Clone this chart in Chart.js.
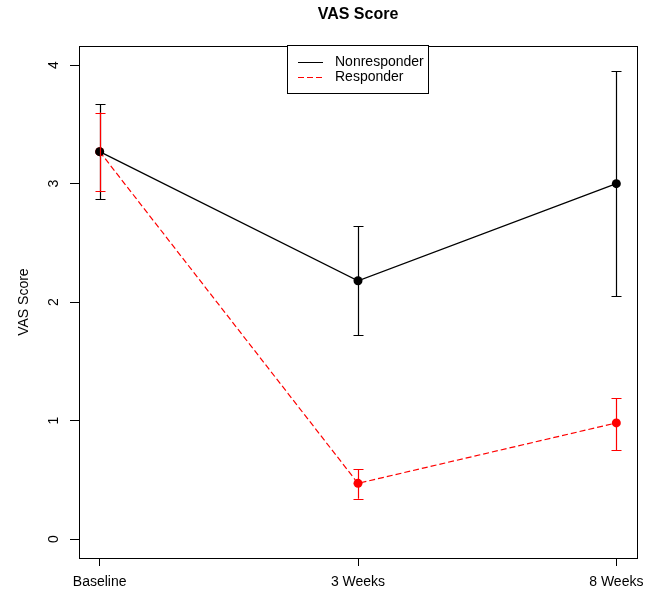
<!DOCTYPE html>
<html>
<head>
<meta charset="utf-8">
<script src="https://cdn.jsdelivr.net/npm/chart.js@4.4.1/dist/chart.umd.min.js"></script>
<style>
  html, body { margin: 0; padding: 0; background: #fff; }
  #wrap { width: 650px; height: 591px; }
</style>
</head>
<body>
<div id="wrap"><canvas id="c" width="650" height="591"></canvas></div>
<script>
const categories = ['Baseline', '3 Weeks', '8 Weeks'];
const xPositions = [1, 2, 3];
const yTickValues = [0, 1, 2, 3, 4];

const nonresponderMean  = [3.27, 2.18, 3.00];
const nonresponderUpper = [3.67, 2.64, 3.95];
const nonresponderLower = [2.87, 1.72, 2.05];

const responderMean  = [3.27, 0.47, 0.98];
const responderUpper = [3.60, 0.59, 1.19];
const responderLower = [2.94, 0.34, 0.75];

const FONT = '"Liberation Sans", Arial, sans-serif';

const series = [
  { label: 'Nonresponder', mean: nonresponderMean, upper: nonresponderUpper, lower: nonresponderLower, color: '#000000', dash: [] },
  { label: 'Responder', mean: responderMean, upper: responderUpper, lower: responderLower, color: '#FF0000', dash: [6, 3] }
];

const boxAndBars = {
  id: 'boxAndBars',
  beforeDatasetsDraw(chart) {
    const { ctx, chartArea: a } = chart;
    ctx.save();
    ctx.strokeStyle = '#000';
    ctx.lineWidth = 1;
    ctx.strokeRect(Math.round(a.left) + 0.5, Math.round(a.top) + 0.5,
                   Math.round(a.right - a.left), Math.round(a.bottom - a.top));
    ctx.restore();
  },
  afterDatasetsDraw(chart) {
    const { ctx, scales: { x, y } } = chart;
    ctx.save();
    ctx.lineWidth = 1.2;
    series.forEach(s => {
      ctx.strokeStyle = s.color;
      s.mean.forEach((m, i) => {
        const px = Math.round(x.getPixelForValue(xPositions[i])) + 0.5;
        const pTop = y.getPixelForValue(s.upper[i]);
        const pBot = y.getPixelForValue(s.lower[i]);
        ctx.beginPath();
        ctx.moveTo(px, pTop); ctx.lineTo(px, pBot);
        ctx.moveTo(px - 5, Math.round(pTop) + 0.5); ctx.lineTo(px + 5, Math.round(pTop) + 0.5);
        ctx.moveTo(px - 5, Math.round(pBot) + 0.5); ctx.lineTo(px + 5, Math.round(pBot) + 0.5);
        ctx.stroke();
      });
    });
    ctx.restore();
  },
  afterDraw(chart) {
    const { ctx } = chart;
    ctx.save();
    // legend box
    const lx = 287.5, ly = 45.5, lw = 141, lh = 48;
    ctx.fillStyle = '#fff';
    ctx.fillRect(lx, ly, lw, lh);
    ctx.strokeStyle = '#000';
    ctx.lineWidth = 1;
    ctx.strokeRect(lx, ly, lw, lh);
    ctx.font = '14px ' + FONT;
    ctx.textBaseline = 'middle';
    ctx.textAlign = 'left';
    series.forEach((s, i) => {
      const yy = Math.round(62 + i * 15) + 0.5;
      ctx.strokeStyle = s.color;
      ctx.setLineDash(s.dash);
      ctx.beginPath();
      ctx.moveTo(298, yy); ctx.lineTo(323, yy);
      ctx.stroke();
      ctx.setLineDash([]);
      ctx.fillStyle = '#000';
      ctx.fillText(s.label, 335, yy);
    });
    ctx.restore();
  }
};

const datasets = series.map(s => ({
  label: s.label,
  data: xPositions.map((xv, i) => ({ x: xv, y: s.mean[i] })),
  borderColor: s.color,
  backgroundColor: s.color,
  borderWidth: 1.2,
  borderDash: s.dash,
  pointRadius: 4.5,
  pointHoverRadius: 4.5,
  pointBorderWidth: 0,
  pointBackgroundColor: s.color,
  tension: 0,
  fill: false
}));

new Chart(document.getElementById('c'), {
  type: 'line',
  data: { datasets },
  plugins: [boxAndBars],
  options: {
    responsive: false,
    animation: false,
    events: [],
    layout: { autoPadding: false, padding: { left: 0, right: 13, top: 0, bottom: 0 } },
    plugins: {
      legend: { display: false },
      tooltip: { enabled: false },
      title: {
        display: true,
        text: 'VAS Score',
        fullSize: false,
        color: '#000',
        font: { family: FONT, size: 16, weight: 'bold', lineHeight: 1.2 },
        padding: { top: 5, bottom: 22 }
      }
    },
    scales: {
      x: {
        type: 'linear',
        min: 0.92,
        max: 3.08,
        offset: false,
        afterBuildTicks: (scale) => { scale.ticks = xPositions.map(v => ({ value: v })); },
        afterFit: (scale) => { scale.height = 33; scale.paddingLeft = 0; scale.paddingRight = 0; },
        ticks: {
          autoSkip: false,
          maxRotation: 0,
          minRotation: 0,
          padding: 8,
          color: '#000',
          font: { family: FONT, size: 14 },
          callback: (v) => categories[xPositions.indexOf(v)]
        },
        grid: { display: true, drawOnChartArea: false, drawTicks: true, tickLength: 8, color: '#000', lineWidth: 1 },
        border: { display: false }
      },
      y: {
        type: 'linear',
        min: -0.16,
        max: 4.16,
        afterBuildTicks: (scale) => { scale.ticks = yTickValues.map(v => ({ value: v })); },
        afterFit: (scale) => { scale.width = 79; scale.paddingTop = 0; scale.paddingBottom = 0; },
        title: {
          display: true,
          text: 'VAS Score',
          color: '#000',
          font: { family: FONT, size: 14, lineHeight: 1.2 },
          padding: { top: 16, bottom: 0 }
        },
        ticks: {
          minRotation: 90,
          maxRotation: 90,
          crossAlign: 'center',
          padding: 12,
          color: '#000',
          font: { family: FONT, size: 14 },
          callback: (v) => String(v)
        },
        grid: { display: true, drawOnChartArea: false, drawTicks: true, tickLength: 9, color: '#000', lineWidth: 1 },
        border: { display: false }
      }
    }
  }
});
</script>
</body>
</html>
